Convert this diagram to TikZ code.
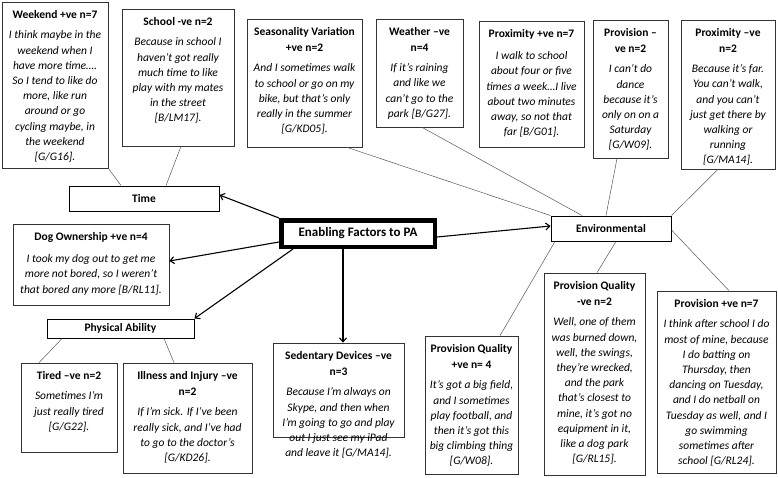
\documentclass[tikz,border=0pt]{standalone}
\usepackage{fontspec}
\setmainfont{Carlito}
\usetikzlibrary{arrows.meta}
\tikzset{
  qframe/.style={draw=black!80, line width=0.7pt, rectangle, inner sep=0pt},
  qtitle/.style={anchor=north, align=center, inner sep=0pt, font=\fontsize{11.5}{16}\selectfont\bfseries},
  qquote/.style={anchor=north, align=center, inner sep=0pt, font=\fontsize{11.5}{15.2}\selectfont\itshape},
  lbl/.style={draw=black, line width=1pt, rectangle, inner sep=0pt, font=\fontsize{11.5}{13}\selectfont\bfseries},
  conn/.style={draw=black!65, line width=0.5pt},
  arr/.style={draw=black, line width=1.1pt, -{Straight Barb[length=4pt,width=7pt]}},
}
\newcommand\qbox[7]{%
  \node[qframe, minimum width={(#4)-(#2)}, minimum height={(#5)-(#3)}] (#1) at ({((#2)+(#4))/2},{((#3)+(#5))/2}) {};
  \node[qtitle] (#1-t) at ([yshift=-8.5pt]#1.north) {#6};
  \node[qquote] (#1-q) at ([yshift=-12pt]#1-t.south) {#7};
}
\newcommand\lbox[6]{%
  \node[lbl, minimum width={(#4)-(#2)}, minimum height={(#5)-(#3)}] (#1) at ({((#2)+(#4))/2},{((#3)+(#5))/2}) {#6};
}
\begin{document}
\begin{tikzpicture}[x=1pt,y=-1pt]
\useasboundingbox (0,0) rectangle (778,477);
\fill[white] (0,0) rectangle (778,477);

\qbox{weekend}{2}{2}{108}{168}{Weekend +ve n=7}{I think maybe in the\\weekend when I\\have more time….\\So I tend to like do\\more, like run\\around or go\\cycling maybe, in\\the weekend\\{[G/G16]}.}
\qbox{school}{122}{9}{234}{146}{School -ve n=2}{Because in school I\\haven't got really\\much time to like\\play with my mates\\in the street\\{[B/LM17]}.}
\qbox{season}{247}{19}{362}{147}{Seasonality Variation\\+ve n=2}{And I sometimes walk\\to school or go on my\\bike, but that's only\\really in the summer\\{[G/KD05]}.}
\qbox{weather}{376}{19}{463}{127}{Weather –ve\\n=4}{If it’s raining\\and like we\\can’t go to the\\park [B/G27].}
\qbox{proxp}{479}{21}{584}{147}{Proximity +ve n=7}{I walk to school\\about four or five\\times a week…I live\\about two minutes\\away, so not that\\far [B/G01].}
\qbox{provm}{593}{20}{668}{158}{Provision –\\ve n=2}{I can't do\\dance\\because it's\\only on on a\\Saturday\\{[G/W09]}.}
\qbox{proxm}{681}{20}{775}{169}{Proximity –ve\\n=2}{Because it's far.\\You can't walk,\\and you can't\\just get there by\\walking or\\running\\{[G/MA14]}.}
\qbox{dog}{13}{224}{169}{305}{Dog Ownership +ve n=4}{I took my dog out to get me\\more not bored, so I weren't\\that bored any more [B/RL11].}
\qbox{tired}{21}{363}{117}{452}{Tired –ve n=2}{Sometimes I'm\\just really tired\\{[G/G22]}.}
\qbox{illness}{123}{363}{252}{473}{Illness and Injury –ve\\n=2}{If I'm sick. If I've been\\really sick, and I've had\\to go to the doctor's\\{[G/KD26]}.}
\qbox{sed}{273}{343}{404}{437}{Sedentary Devices –ve\\n=3}{Because I'm always on\\Skype, and then when\\I'm going to go and play\\out I just see my iPad\\and leave it [G/MA14].}
\qbox{pqp}{425}{336}{518}{474}{Provision Quality\\+ve n= 4}{It's got a big field,\\and I sometimes\\play football, and\\then it's got this\\big climbing thing\\{[G/W08]}.}
\qbox{pqm}{544}{273}{645}{475}{Provision Quality\\-ve n=2}{Well, one of them\\was burned down,\\well, the swings,\\they're wrecked,\\and the park\\that's closest to\\mine, it's got no\\equipment in it,\\like a dog park\\{[G/RL15]}.}
\qbox{provp}{657}{291}{776}{473}{Provision +ve n=7}{I think after school I do\\most of mine, because\\I do batting on\\Thursday, then\\dancing on Tuesday,\\and I do netball on\\Tuesday as well, and I\\go swimming\\sometimes after\\school [G/RL24].}

\lbox{time}{69}{186}{219}{211}{Time}
\lbox{env}{551}{216}{671}{241}{Environmental}
\lbox{phys}{47}{319}{194}{338}{Physical Ability}
\node[draw=black, line width=4.5pt, rectangle, inner sep=0pt, minimum width=153.5pt, minimum height=26.5pt, font=\fontsize{13}{15}\selectfont\bfseries] (ctr) at (358,233.5) {Enabling Factors to PA};

\draw[conn] (weekend.south east) -- ([xshift=-23pt]time.north);
\draw[conn] ([xshift=3pt]school.south) -- ([xshift=22pt]time.north);
\draw[conn] ([xshift=42.5pt]season.south) -- (env.north west);
\draw[conn] ([xshift=2.5pt]weather.south) -- ([xshift=-29pt]env.north);
\draw[conn] ([xshift=-13.5pt]provm.south) -- ([xshift=-5pt]env.north);
\draw[conn] ([xshift=-10pt]proxm.south) -- (env.north east);
\draw[conn] ([xshift=-56pt]env.south) -- ([xshift=28.5pt]pqp.north);
\draw[conn] ([xshift=5pt]env.south) -- ([xshift=2.5pt]pqm.north);
\draw[conn] ([yshift=-1.5pt]env.east) -- ([xshift=12.5pt]provp.north);
\draw[conn] ([xshift=-58.5pt]phys.south) -- ([xshift=-30pt]tired.north);
\draw[conn] ([xshift=43.5pt]phys.south) -- ([xshift=-13.5pt]illness.north);

\draw[arr] (ctr.north west) -- ([yshift=3.5pt]time.east);
\draw[arr] ([yshift=-8.5pt]ctr.west) -- ([yshift=3.5pt]dog.east);
\draw[arr] ([xshift=-65pt]ctr.south) -- (phys.north east);
\draw[arr] ([xshift=-15pt]ctr.south) -- ([xshift=4.5pt]sed.north);
\draw[arr] ([yshift=-3.5pt]ctr.east) -- ([yshift=2.5pt]env.west);
\end{tikzpicture}
\end{document}
